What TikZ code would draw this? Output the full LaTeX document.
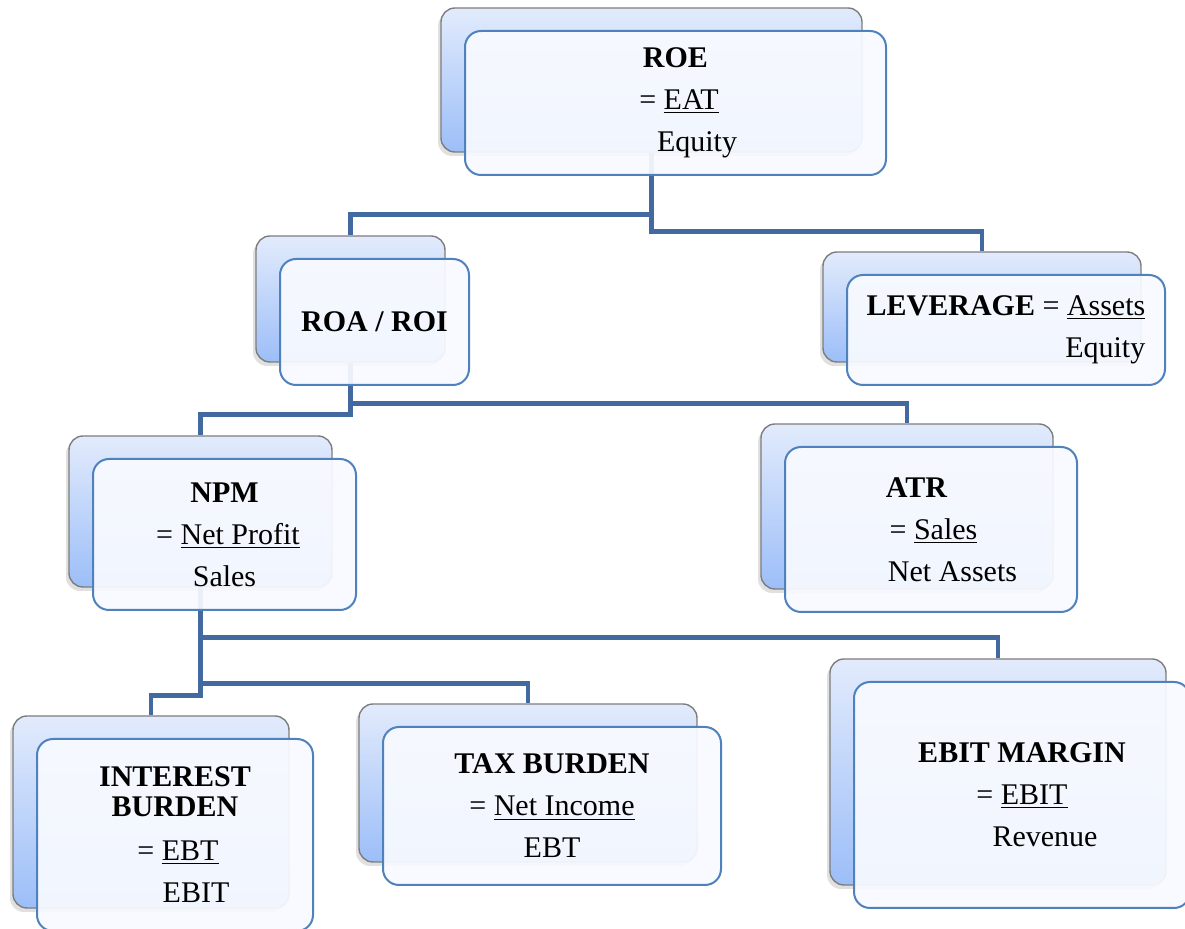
\documentclass[tikz,border=0pt]{standalone}
\usepackage{fontspec}
\setmainfont{Liberation Serif}
\usetikzlibrary{shadows}

\definecolor{linkblue}{RGB}{66,106,160}
\definecolor{frontblue}{RGB}{79,129,189}
\definecolor{frontfill}{RGB}{248,250,255}
\definecolor{backgray}{RGB}{125,125,125}
\definecolor{backtop}{RGB}{226,235,252}
\definecolor{backbot}{RGB}{156,190,248}

\begin{document}
\begin{tikzpicture}[x=0.5pt, y=-0.5pt,
		back/.style={draw=backgray, line width=0.7pt, rounded corners=7pt, top color=backtop, bottom color=backbot,
			drop shadow={shadow xshift=-1.5pt, shadow yshift=-2pt, opacity=0.2, fill=black!60}},
		front/.style={draw=frontblue, line width=1pt, rounded corners=8pt, fill=frontfill, fill opacity=0.93,
			text opacity=1, align=center, inner sep=0pt, font=\fontsize{15pt}{21pt}\selectfont},
		boxsize/.style 2 args={minimum width=#1, minimum height=#2},
		link/.style={draw=linkblue, line width=2.3pt}]

		\useasboundingbox (0,0) rectangle (1185,929);
		\clip (0,0) rectangle (1185,929);

		% back cards
		\node [back, boxsize={210.5pt}{72pt}] (roeB) at (651.5,80) {};
		\node [back, boxsize={94.5pt}{63pt}] (roaB) at (350.5,299) {};
		\node [back, boxsize={159pt}{55pt}] (levB) at (982,307) {};
		\node [back, boxsize={131.5pt}{75.5pt}] (npmB) at (200.5,511.5) {};
		\node [back, boxsize={146pt}{82.5pt}] (atrB) at (907,506.5) {};
		\node [back, boxsize={138pt}{96pt}] (ibB) at (151,812) {};
		\node [back, boxsize={169pt}{79pt}] (taxB) at (528,783) {};
		\node [back, boxsize={168pt}{113pt}] (ebitB) at (998,772) {};

		% draw the tree lines
		\draw [link] (roeB.south) -- ++(0,62) -| (roaB.north);
		\draw [link] (roeB.south) -- ++(0,79) -| (levB.north);

		\draw [link] (roaB.south) -- ++(0,52) -| (npmB.north);
		\draw [link] (roaB.south) -- ++(0,41) -| (atrB.north);

		\draw [link] (npmB.south) -- ++(0,50) -| (ebitB.north);
		\draw [link] (npmB.south) -- ++(0,96) -| (taxB.north);
		\draw [link] (npmB.south) -- ++(0,108) -| (ibB.north);

		% front cards with the ratios
		\node [front, boxsize={210.5pt}{72pt}] (roe) at ([shift={(24,23)}]roeB.center)
			{\textbf{ROE}\\ \hspace*{3.5pt}= \underline{EAT}\\ \hspace*{21.5pt}Equity};
		\node [front, boxsize={94.5pt}{63pt}] (roa) at ([shift={(24,23)}]roaB.center)
			{\textbf{ROA / ROI}};
		\node [front, boxsize={159pt}{55pt}, align=right] (lev) at ([shift={(24,23)}]levB.center)
			{\textbf{LEVERAGE} = \underline{Assets}\\ Equity};
		\node [front, boxsize={131.5pt}{75.5pt}] (npm) at ([shift={(24,23)}]npmB.center)
			{\textbf{NPM}\\ \hspace*{3.5pt}= \underline{Net Profit}\\ Sales};
		\node [front, boxsize={146pt}{82.5pt}] (atr) at ([shift={(24,23)}]atrB.center)
			{\textbf{ATR}\hspace*{14.5pt}\\ \hspace*{2.5pt}= \underline{Sales}\\ \hspace*{21.5pt}Net Assets};
		\node [front, boxsize={138pt}{96pt}] (ib) at ([shift={(24,23)}]ibB.center)
			{\textbf{INTEREST}\\[-6pt] \textbf{BURDEN}\\[1pt] \hspace*{3pt}= \underline{EBT}\\ \hspace*{21pt}EBIT};
		\node [front, boxsize={169pt}{79pt}] (tax) at ([shift={(24,23)}]taxB.center)
			{\textbf{TAX BURDEN}\\ = \underline{Net Income}\\ EBT};
		\node [front, boxsize={168pt}{113pt}] (ebit) at ([shift={(24,23)}]ebitB.center)
			{\textbf{EBIT MARGIN}\\ = \underline{EBIT}\\ \hspace*{23pt}Revenue};
	\end{tikzpicture}
\end{document}
